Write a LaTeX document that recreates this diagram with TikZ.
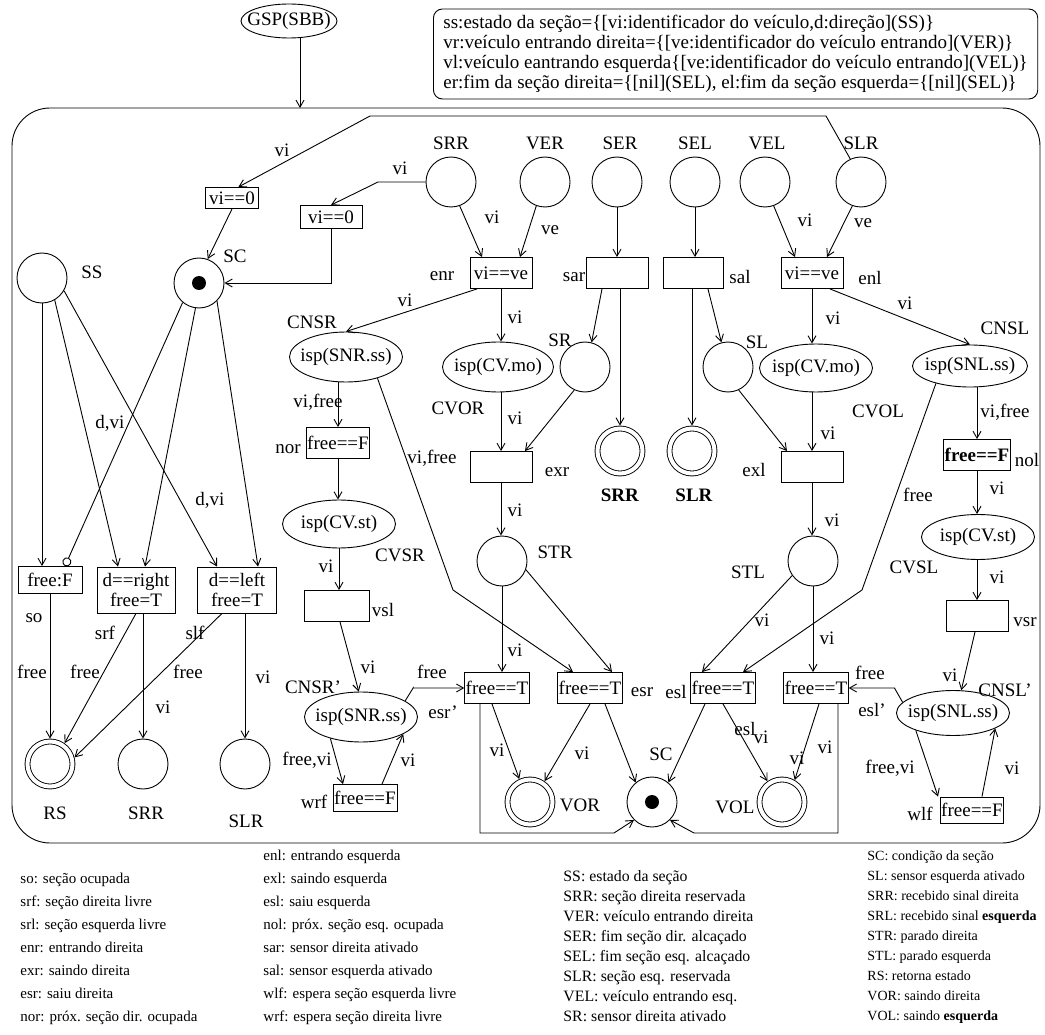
\documentclass[tikz,border=0pt]{standalone}
\usepackage{fontspec}
\setmainfont{Liberation Serif}
\usetikzlibrary{shapes.geometric,arrows.meta,calc}

% text kept out of the size computation of the ellipses
\newcommand{\elltext}[1]{\makebox[0pt]{#1}}

\tikzset{
  place/.style={circle,draw,minimum size=50pt,inner sep=0pt},
  final/.style={circle,draw,double,double distance=4pt,minimum size=45pt,inner sep=0pt,outer sep=2.9pt},
  marked/.style={place,path picture={\fill (path picture bounding box.center) circle (7pt);}},
  trans/.style={rectangle,draw,minimum width=62pt,minimum height=31pt,inner sep=1pt,align=center},
  cond/.style={ellipse,draw,minimum width=113pt,minimum height=48pt,inner sep=0pt},
  lbl/.style={inner sep=0pt},
  legA/.style={inner sep=0pt,anchor=base west,font=\fontsize{15}{17}\selectfont},
  legB/.style={inner sep=0pt,anchor=base west,font=\fontsize{14}{16}\selectfont},
  legC/.style={inner sep=0pt,anchor=base west,font=\fontsize{15.8}{17}\selectfont},
  arc/.style={-{Straight Barb[length=7pt,width=8pt]}},
}

\begin{document}
\begin{tikzpicture}[x=1pt,y=-1pt,line width=0.9pt,font=\fontsize{19}{20}\selectfont]
\useasboundingbox (0,0) rectangle (1045,1035);

% header
\node[ellipse,draw,minimum width=96pt,minimum height=34pt,inner sep=0pt] (gsp) at (289,21) {\elltext{GSP(SBB)}};
\node[draw,rounded corners=9pt,anchor=west,align=left,inner xsep=10pt,minimum height=90pt,
      font=\fontsize{19}{20}\selectfont] (decl) at (433,54)
  {ss:estado da seção=\{[vi:identificador do veículo,d:direção](SS)\}\\
   vr:veículo entrando direita=\{[ve:identificador do veículo entrando](VER)\}\\
   vl:veículo eantrando esquerda\{[ve:identificador do veículo entrando](VEL)\}\\
   er:fim da seção direita=\{[nil](SEL), el:fim da seção esquerda=\{[nil](SEL)\}};

% frame of the page
\draw[rounded corners=38pt] (12,108) rectangle (1040,843);
\coordinate (top) at (300,108);
\draw[arc] (gsp.south -| top) -- (top);

% places
\node[place] (srr) at (451,182) {};
\node[place] (ver) at (545,182) {};
\node[place] (ser) at (617,182) {};
\node[place] (sel) at (695,182) {};
\node[place] (vel) at (765,182) {};
\node[place] (slr) at (861,182) {};
\node[place] (ss) at (42,278) {};
\node[marked] (sc) at (199,283) {};
\node[final] (rs) at (50,764) {};
\node[place] (srrb) at (143,764) {};
\node[place] (slrb) at (245,764) {};
\node[place] (sr) at (585,367) {};
\node[final] (srrm) at (620,451) {};
\node[final] (slrm) at (692,451) {};
\node[place] (sl) at (728,367) {};
\node[place] (str) at (502,561) {};
\node[place] (stl) at (813,561) {};
\node[final] (vor) at (530,802) {};
\node[marked] (scb) at (652,802) {};
\node[final] (vol) at (782,802) {};

\node[lbl] (l-srr) at (451,143) {SRR};
\node[lbl] (l-ver) at (545,143) {VER};
\node[lbl] (l-ser) at (620,143) {SER};
\node[lbl] (l-sel) at (695,143) {SEL};
\node[lbl] (l-vel) at (767,143) {VEL};
\node[lbl] (l-slr) at (861,143) {SLR};
\node[lbl] (l-ss) at (92,272) {SS};
\node[lbl] (l-sc) at (235,256) {SC};
\node[lbl] (l-rs) at (55,813) {RS};
\node[lbl] (l-srrb) at (146,813) {SRR};
\node[lbl] (l-slrb) at (246,821) {SLR};
\node[lbl] (l-sr) at (560,340) {SR};
\node[lbl] (l-srrm) at (620,495) {\textbf{SRR}};
\node[lbl] (l-slrm) at (694,495) {\textbf{SLR}};
\node[lbl] (l-sl) at (757,342) {SL};
\node[lbl] (l-str) at (555,552) {STR};
\node[lbl] (l-stl) at (748,572) {STL};
\node[lbl] (l-vor) at (580,805) {VOR};
\node[lbl] (l-scb) at (661,754) {SC};
\node[lbl] (l-vol) at (735,807) {VOL};

% transitions
\node[trans,minimum width=53pt,minimum height=21pt] (g1) at (232,198) {vi==0};
\node[trans,minimum height=23pt] (g2) at (331,217) {vi==0};
\node[trans] (enr) at (501,273) {vi==ve};
\node[trans] (sar) at (617,273) {};
\node[trans,minimum width=60pt] (sal) at (693,273) {};
\node[trans] (enl) at (812,273) {vi==ve};
\node[trans] (exr) at (501,467) {};
\node[trans] (exl) at (812,467) {};
\node[trans] (nor) at (338,443) {free==F};
\node[trans,minimum width=65pt] (vsl) at (337,606) {};
\node[trans] (nol) at (977,455) {\textbf{free==F}};
\node[trans] (vsr) at (977,616) {};
\node[trans,minimum width=64pt,minimum height=27pt] (so) at (50,580) {free:F};
\node[trans,minimum width=78pt,minimum height=46pt] (srf) at (136,590) {d==right\\free=T};
\node[trans,minimum width=79pt,minimum height=46pt] (slf) at (237,590) {d==left\\free=T};
\node[trans] (esr1) at (497,688) {free==T};
\node[trans] (esr) at (590,688) {free==T};
\node[trans] (esl) at (723,688) {free==T};
\node[trans] (esl1) at (816,688) {free==T};
\node[trans,minimum width=64pt,minimum height=27pt] (wrf) at (365,798) {free==F};
\node[trans,minimum width=63pt,minimum height=26pt] (wlf) at (972,810) {free==F};

\node[lbl] (t-enr) at (442,276) {enr};
\node[lbl] (t-sar) at (574,277) {sar};
\node[lbl] (t-sal) at (740,277) {sal};
\node[lbl] (t-enl) at (870,278) {enl};
\node[lbl] (t-exr) at (557,472) {exr};
\node[lbl] (t-exl) at (754,470) {exl};
\node[lbl] (t-nor) at (288,449) {nor};
\node[lbl] (t-vsl) at (383,610) {vsl};
\node[lbl] (t-nol) at (1027,460) {nol};
\node[lbl] (t-vsr) at (1025,622) {vsr};
\node[lbl] (t-so) at (34,618) {so};
\node[lbl] (t-srf) at (105,633) {srf};
\node[lbl] (t-slf) at (195,633) {slf};
\node[lbl] (t-esr1) at (443,712) {esr'};
\node[lbl] (t-esr) at (642,692) {esr};
\node[lbl] (t-esl) at (676,692) {esl};
\node[lbl] (t-esl1) at (872,710) {esl'};
\node[lbl] (t-wrf) at (314,802) {wrf};
\node[lbl] (t-wlf) at (920,814) {wlf};

% conditions
\node[cond,minimum height=50pt] (cnsr) at (346,357) {\elltext{isp(SNR.ss)}};
\node[cond,minimum width=111pt,minimum height=50pt] (cvor) at (498,367) {\elltext{isp(CV.mo)}};
\node[cond] (cvol) at (816,368) {\elltext{isp(CV.mo)}};
\node[cond,minimum width=115pt,minimum height=42pt] (cnsl) at (970,366) {\elltext{isp(SNL.ss)}};
\node[cond] (cvsr) at (339,524) {\elltext{isp(CV.st)}};
\node[cond,minimum height=45pt] (cvsl) at (978,537) {\elltext{isp(CV.st)}};
\node[cond,minimum height=50pt] (cnsr2) at (361,717) {\elltext{isp(SNR.ss)}};
\node[cond,minimum height=45pt] (cnsl2) at (953,713) {\elltext{isp(SNL.ss)}};

\node[lbl] (c-cnsr) at (312,322) {CNSR};
\node[lbl] (c-cvor) at (458,408) {CVOR};
\node[lbl] (c-cvol) at (878,411) {CVOL};
\node[lbl] (c-cnsl) at (1005,328) {CNSL};
\node[lbl] (c-cvsr) at (400,555) {CVSR};
\node[lbl] (c-cvsl) at (914,567) {CVSL};
\node[lbl] (c-cnsr2) at (313,687) {CNSR'};
\node[lbl] (c-cnsl2) at (1005,690) {CNSL'};

% arcs, left part
\draw[arc] (slr.115) -- (826,116) -- (370,116) -- (g1.60);
\draw[arc] (srr.west) -- (378,182) -- (g2.north);
\draw[arc] (g2.south) |- (sc.east);
\draw[arc] (g1.south) -- (sc.70);
\draw[arc] (ss.south) -- (ss.south |- so.north);
\draw[-{Circle[open,length=9pt,width=9pt]}] (sc.230) -- ($(so.north)+(15,0)$);
\draw[arc] (ss.300) -- ($(srf.north)+(-18,0)$);
\draw[arc] (sc.262) -- ($(srf.north)+(9,0)$);
\draw[arc] (ss.330) -- ($(slf.north)+(-20,0)$);
\draw[arc] (sc.315) -- ($(slf.north)+(21,0)$);
\draw[arc] (so.south) -- (rs.north);
\draw[arc] (srf.south) -- (rs.55);
\draw[arc] (srrb.north |- srf.south) -- (srrb.north);
\draw[arc] ($(slf.south)+(-15,0)$) -- (rs.15);
\draw[arc] (slrb.north |- slf.south) -- (slrb.north);

% arcs, entering and sensors
\draw[arc] (srr.290) -- ($(enr.north)+(-19,0)$);
\draw[arc] (ver.250) -- ($(enr.north)+(19,0)$);
\draw[arc] (ser) -- (sar);
\draw[arc] (sel.south) -- (sel.south |- sal.north);
\draw[arc] (vel.290) -- ($(enl.north)+(-17,0)$);
\draw[arc] (slr.250) -- ($(enl.north)+(15,0)$);
\draw[arc] ($(enr.south)+(-24,0)$) -- (cnsr.north);
\draw[arc] (enr.south) -- (enr.south |- cvor.north);
\draw[arc] ($(sar.south)+(-15,0)$) -- (sr.75);
\draw[arc] (srrm.north |- sar.south) -- (srrm.north);
\draw[arc] (slrm.north |- sal.south) -- (slrm.north);
\draw[arc] ($(sal.south)+(15,0)$) -- (sl.105);
\draw[arc] (enl.south) -- (enl.south |- cvol.north);
\draw[arc] ($(enl.south)+(18,0)$) -- (cnsl.north);
\draw[arc] (exr.north |- cvor.south) -- (exr.north);
\draw[arc] (sr.245) -- ($(exr.north)+(24,0)$);
\draw[arc] (exr.south) -- (exr.south |- str.north);
\draw[arc] (exl.north |- cvol.south) -- (exl.north);
\draw[arc] (sl.295) -- ($(exl.north)+(-25,0)$);
\draw[arc] (exl.south) -- (exl.south |- stl.north);

% arcs, next section right
\draw[arc] (nor.north |- cnsr.south) -- (nor.north);
\draw[arc] (nor.south) -- (nor.south |- cvsr.north);
\draw[arc] (cvsr.south) -- (cvsr.south |- vsl.north);
\draw[arc] ($(vsl.south)+(3,0)$) -- (cnsr2.95);
\draw[arc] (cnsr2.20) -- ++(8,-13) |- (esr1.west);
\draw[arc] (cnsr2.215) -- ($(wrf.north)+(-22,0)$);
\draw[arc] ($(wrf.north)+(17,0)$) -- (cnsr2.338);
\draw[arc] (cnsr.326) -- (453,590) -- ($(esr.north)+(-17,0)$);

% arcs, next section left
\draw[arc] (nol.north |- cnsl.south) -- (nol.north);
\draw[arc] (nol.south) -- (nol.south |- cvsl.north);
\draw[arc] (vsr.north |- cvsl.south) -- (vsr.north);
\draw[arc] ($(vsr.south)+(-2,0)$) -- (cnsl2.70);
\draw[arc] (cnsl2.168) -- ++(-8,-14) |- (esl1.east);
\draw[arc] (cnsl2.205) -- ($(wlf.north)+(-34,0)$);
\draw[arc] ($(wlf.north)+(10,0)$) -- (cnsl2.340);
\draw[arc] (cnsl.207) -- (862,590) -- ($(esl.north)+(20,0)$);

% arcs, leaving
\draw[arc] (str.south) -- (str.south |- esr1.north);
\draw[arc] (str.340) -- ($(esr.north)+(22,0)$);
\draw[arc] (stl.215) -- ($(esl.north)+(-21,0)$);
\draw[arc] (stl.south) -- (stl.south |- esl1.north);
\draw[arc] ($(esr1.south)+(-5,0)$) -- (vor.115);
\draw[arc] ($(esr1.south)+(-17,0)$) |- ($(scb.225)+(-20,13)$) -- (scb.225);
\draw[arc] ($(esl1.south)+(22,0)$) |- ($(scb.315)+(24,13)$) -- (scb.315);
\draw[arc] (esr.south) -- (vor.55);
\draw[arc] ($(esr.south)+(15,0)$) -- (scb.130);
\draw[arc] ($(esl.south)+(-18,0)$) -- (scb.50);
\draw[arc] (esl.south) -- (vol.125);
\draw[arc] ($(esl1.south)+(3,0)$) -- (vol.60);

% arc inscriptions
\node[lbl] (w1) at (282,150) {vi};
\node[lbl] (w2) at (400,168) {vi};
\node[lbl] (w3) at (110,423) {d,vi};
\node[lbl] (w4) at (210,500) {d,vi};
\node[lbl] (w5) at (32,672) {free};
\node[lbl] (w6) at (85,672) {free};
\node[lbl] (w7) at (163,707) {vi};
\node[lbl] (w8) at (188,672) {free};
\node[lbl] (w9) at (263,677) {vi};
\node[lbl] (w10) at (492,217) {vi};
\node[lbl] (w11) at (550,230) {ve};
\node[lbl] (w12) at (805,220) {vi};
\node[lbl] (w13) at (863,223) {ve};
\node[lbl] (w14) at (405,300) {vi};
\node[lbl] (w15) at (515,317) {vi};
\node[lbl] (w16) at (515,418) {vi};
\node[lbl] (w17) at (515,510) {vi};
\node[lbl] (w18) at (833,318) {vi};
\node[lbl] (w19) at (905,303) {vi};
\node[lbl] (w20) at (828,433) {vi};
\node[lbl] (w21) at (832,520) {vi};
\node[lbl] (w22) at (318,402) {vi,free};
\node[lbl] (w23) at (326,566) {vi};
\node[lbl] (w24) at (368,667) {vi};
\node[lbl] (w25) at (432,672) {free};
\node[lbl] (w26) at (307,760) {free,vi};
\node[lbl] (w27) at (408,760) {vi};
\node[lbl] (w28) at (515,650) {vi};
\node[lbl] (w29) at (432,458) {vi,free};
\node[lbl] (w30) at (762,620) {vi};
\node[lbl] (w31) at (918,495) {free};
\node[lbl] (w32) at (827,638) {vi};
\node[lbl] (w33) at (870,673) {free};
\node[lbl] (w34) at (950,675) {vi};
\node[lbl] (w35) at (890,768) {free,vi};
\node[lbl] (w36) at (1012,768) {vi};
\node[lbl] (w37) at (1005,412) {vi,free};
\node[lbl] (w38) at (997,488) {vi};
\node[lbl] (w39) at (997,577) {vi};
\node[lbl] (w40) at (497,750) {vi};
\node[lbl] (w41) at (582,753) {vi};
\node[lbl] (w42) at (745,729) {esl};
\node[lbl] (w43) at (761,737) {vi};
\node[lbl] (w44) at (825,747) {vi};
\node[lbl] (w45) at (797,758) {vi};

% legend
\foreach \t [count=\i] in {so: seção ocupada, srf: seção direita livre,
    srl: seção esquerda livre, enr: entrando direita, exr: saindo direita,
    esr: saiu direita, nor: próx. seção dir. ocupada}
  \node[legA] (la-\i) at (20,{883+23*(\i-1)}) {\t};
\foreach \t [count=\i] in {enl: entrando esquerda, exl: saindo esquerda,
    esl: saiu esquerda, nol: próx. seção esq. ocupada, sar: sensor direita ativado,
    sal: sensor esquerda ativado, wlf: espera seção esquerda livre,
    wrf: espera seção direita livre}
  \node[legA] (lb-\i) at (263,{860+23*(\i-1)}) {\t};
\foreach \t [count=\i] in {SS: estado da seção, SRR: seção direita reservada,
    VER: veículo entrando direita, SER: fim seção dir. alcaçado,
    SEL: fim seção esq. alcaçado, SLR: seção esq. reservada,
    VEL: veículo entrando esq., SR: sensor direita ativado}
  \node[legC] (lc-\i) at (563,{881+20*(\i-1)}) {\t};
\foreach \t [count=\i] in {SC: condição da seção, SL: sensor esquerda ativado,
    SRR: recebido sinal direita, SRL: recebido sinal \textbf{esquerda},
    STR: parado direita, STL: parado esquerda, RS: retorna estado,
    VOR: saindo direita, VOL: saindo \textbf{esquerda}}
  \node[legB] (ld-\i) at (867,{860+20*(\i-1)}) {\t};
\end{tikzpicture}
\end{document}
